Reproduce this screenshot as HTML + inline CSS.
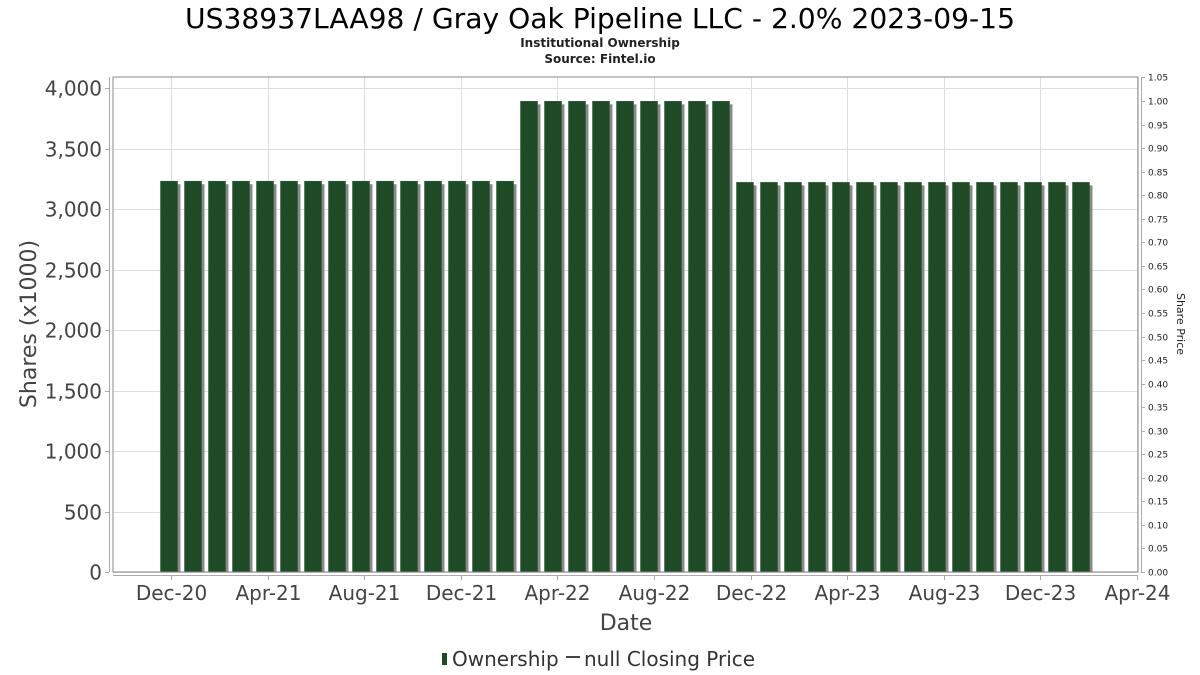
<!DOCTYPE html>
<html><head><meta charset="utf-8"><style>
body{margin:0;background:#fff;}
svg{display:block;font-family:"DejaVu Sans","Liberation Sans",sans-serif;}
</style></head><body>
<svg id="chart" width="1200" height="675" viewBox="0 0 1200 675">
<text x="600" y="28" text-anchor="middle" font-size="28" fill="#000" textLength="830" lengthAdjust="spacingAndGlyphs">US38937LAA98 / Gray Oak Pipeline LLC - 2.0% 2023-09-15</text>
<text x="600" y="47" text-anchor="middle" font-size="12" font-weight="bold" fill="#222">Institutional Ownership</text>
<text x="600" y="63" text-anchor="middle" font-size="12" font-weight="bold" fill="#222">Source: Fintel.io</text>
<g id="grid"></g>
<g id="bars"></g>
<rect x="113" y="77" width="1025" height="495" fill="none" stroke="#888" stroke-width="1"/>
<line x1="109.5" y1="77" x2="109.5" y2="572" stroke="#aaa"/>
<line x1="113" y1="575.5" x2="1138" y2="575.5" stroke="#aaa"/>
<line x1="1141.5" y1="77" x2="1141.5" y2="572" stroke="#aaa"/>
<g id="yticks"></g>
<g id="rticks"></g>
<g id="xticks"></g>
<text transform="translate(36,324) rotate(-90)" text-anchor="middle" font-size="22" fill="#444">Shares (x1000)</text>
<text transform="translate(1177,324) rotate(90)" text-anchor="middle" font-size="11" fill="#222">Share Price</text>
<text x="626" y="630" text-anchor="middle" font-size="22" fill="#444">Date</text>
<g>
<rect x="442" y="653" width="5" height="12" fill="#1e4a26"/>
<text x="452" y="666" font-size="20" fill="#333">Ownership</text>
<line x1="566" y1="657" x2="580" y2="657" stroke="#444" stroke-width="2"/>
<text x="584" y="666" font-size="20" fill="#333">null Closing Price</text>
</g>
</svg>
<script>
const barMonths = [];
for (let i = 0; i < 39; i++) barMonths.push(i); // months since Dec-20
const ownershipValues = [3230,3230,3230,3230,3230,3230,3230,3230,3230,3230,3230,3230,3230,3230,3230,
 3890,3890,3890,3890,3890,3890,3890,3890,3890,
 3220,3220,3220,3220,3220,3220,3220,3220,3220,3220,3220,3220,3220,3220,3220];
const yTicks = [0,500,1000,1500,2000,2500,3000,3500,4000];
const rTicks = [0,0.05,0.1,0.15,0.2,0.25,0.3,0.35,0.4,0.45,0.5,0.55,0.6,0.65,0.7,0.75,0.8,0.85,0.9,0.95,1.0,1.05];
const xTickLabels = ["Dec-20","Apr-21","Aug-21","Dec-21","Apr-22","Aug-22","Dec-22","Apr-23","Aug-23","Dec-23","Apr-24"];
const xTickMonths = [0,4,8,12,16,20,24,28,32,36,40];

const NS = "http://www.w3.org/2000/svg";
const yS = v => 572 - v * 0.121;
const rS = v => 572 - v * 471;
const xS = m => 171 + m * 24.15;
function mk(tag, attrs, parent, text) {
  const e = document.createElementNS(NS, tag);
  for (const k in attrs) e.setAttribute(k, attrs[k]);
  if (text !== undefined) e.textContent = text;
  parent.appendChild(e);
  return e;
}
const grid = document.getElementById('grid');
const bars = document.getElementById('bars');
const yt = document.getElementById('yticks');
const rt = document.getElementById('rticks');
const xt = document.getElementById('xticks');
yTicks.forEach(v => {
  const y = Math.round(yS(v)) + 0.5;
  const g = mk('line', {x1:113, x2:1138, y1:y, y2:y, stroke:'#ddd'}, grid);
  
  
  const t = mk('line', {x1:105, x2:109, y1:y, y2:y, stroke:'#aaa'}, yt);
  
  
  const l = mk('text', {x:102, y:y + 7, 'text-anchor':'end', 'font-size':20, fill:'#444'}, yt, v.toLocaleString('en-US'));
  
  
});
rTicks.forEach(v => {
  const y = Math.round(rS(v)) + 0.5;
  const t = mk('line', {x1:1141, x2:1145, y1:y, y2:y, stroke:'#aaa'}, rt);
  
  
  const l = mk('text', {x:1148, y:y + 3, 'font-size':9, fill:'#222'}, rt, v.toFixed(2));
  
  
});
xTickMonths.forEach((m, i) => {
  const x = Math.round(xS(m)) + 0.5;
  const g = mk('line', {x1:x, x2:x, y1:77, y2:572, stroke:'#ddd'}, grid);
  
  
  const t = mk('line', {x1:x, x2:x, y1:576, y2:580, stroke:'#aaa'}, xt);
  
  
  const l = mk('text', {x:x, y:600, 'text-anchor':'middle', 'font-size':20, fill:'#444'}, xt, xTickLabels[i]);
  
  
});
barMonths.forEach((m, i) => {
  const cx = 168.5 + m * 24.0;
  const y = yS(ownershipValues[i]);
  const s = mk('rect', {x:cx - 8 + 3, y:y + 3, width:17, height:572 - y - 3, fill:'#8a8a8a'}, bars);
  
  
  const b = mk('rect', {x:cx - 8, y:y, width:17, height:572 - y, fill:'#1e4a26', stroke:'#2a5a32', 'stroke-width':0.5}, bars);
  
  
});
</script>
</body></html>
